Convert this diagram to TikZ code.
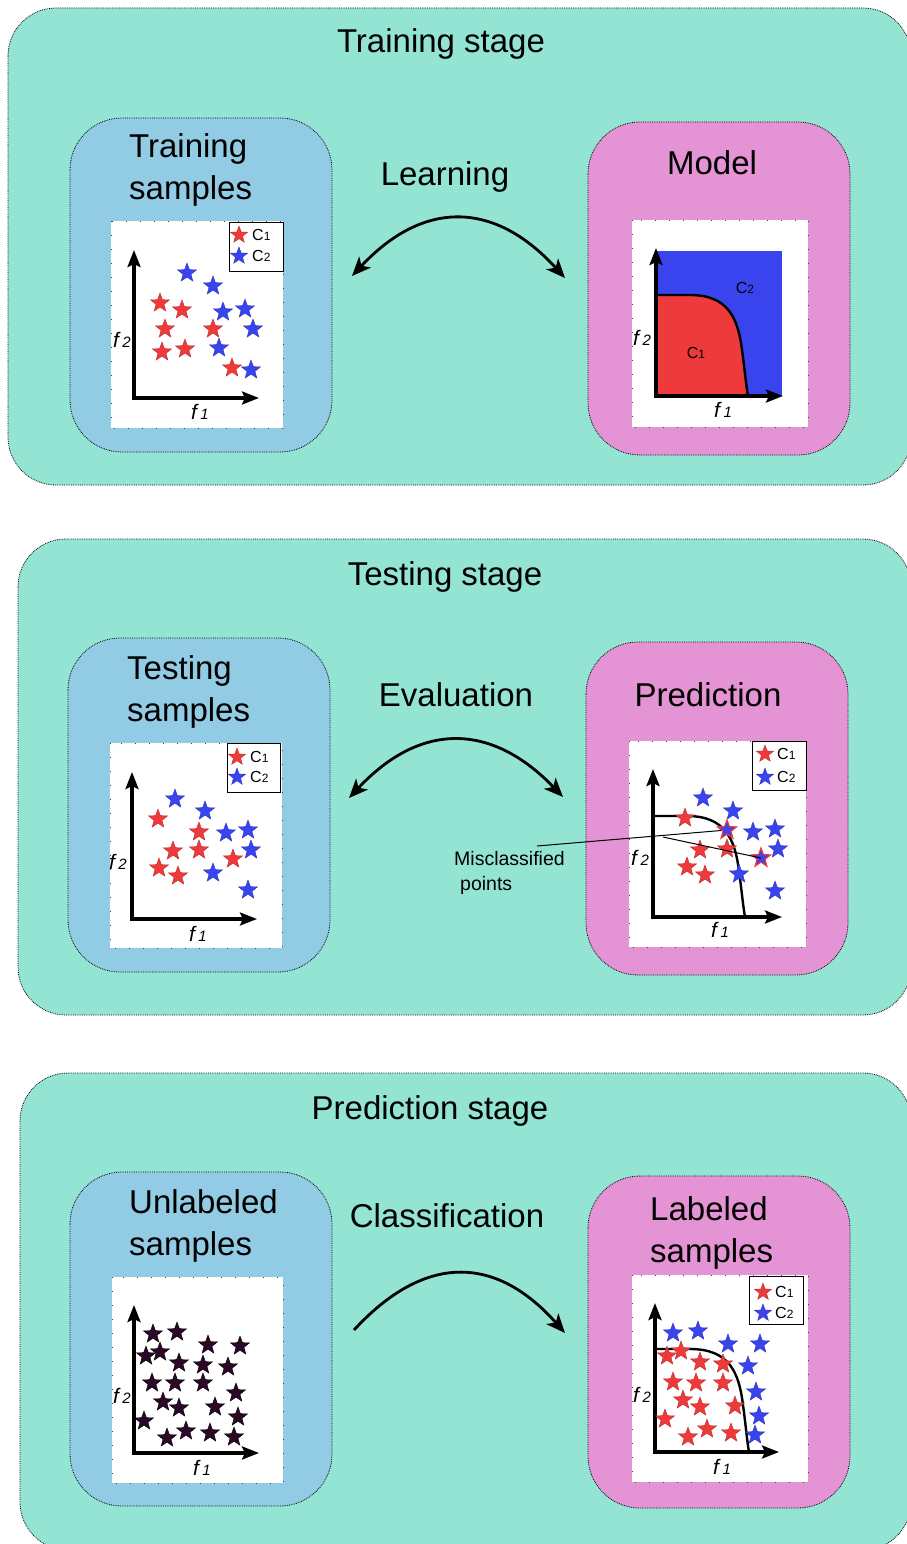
\documentclass[tikz,border=0pt]{standalone}
\usepackage{fontspec}
\setmainfont{Liberation Sans}
\usetikzlibrary{arrows.meta}
\usetikzlibrary{shapes.geometric}

\definecolor{stagegreen}{RGB}{147,228,211}
\definecolor{sampleblue}{RGB}{146,203,228}
\definecolor{modelpink}{RGB}{228,147,212}
\definecolor{cred}{RGB}{238,58,58}
\definecolor{cblue}{RGB}{58,68,238}
\definecolor{cdark}{RGB}{42,8,38}

\tikzset{
  stagebox/.style={fill=stagegreen, draw=black, densely dotted, line width=0.8pt, rounded corners=48pt},
  samplebox/.style={fill=sampleblue, draw=black, densely dotted, line width=0.8pt, rounded corners=52pt},
  modelbox/.style={samplebox, fill=modelpink},
  panel/.style={fill=white, draw=black!75, line width=0.9pt, dash pattern=on 0.9pt off 13.1pt},
  keybox/.style={fill=white, draw=black, line width=0.8pt},
  bigtext/.style={font=\fontsize{33}{42}\selectfont, inner sep=0pt},
  axis/.style={line width=3.2pt, {Stealth[length=17pt,width=13pt,inset=3pt]}-{Stealth[length=17pt,width=13pt,inset=3pt]}},
  flow/.style={line width=2.8pt},
  border/.style={line width=2.4pt},
  pt/.style={star, star points=5, star point ratio=2.4, minimum size=20pt, inner sep=0pt, line width=0.4pt},
  redpt/.style={pt, fill=cred, draw=cred!80!black},
  bluept/.style={pt, fill=cblue, draw=cblue!80!black},
  darkpt/.style={pt, fill=cdark, draw=black},
  wrongpt/.style={pt, fill=cblue, draw=cred, line width=1.2pt},
  flabel/.style={font=\itshape\fontsize{21}{21}\selectfont, inner sep=0pt},
  clabel/.style={font=\fontsize{16}{16}\selectfont, inner sep=0pt, anchor=west},
}
\newcommand{\fsub}[1]{f\,{\fontsize{15}{15}\selectfont #1}}
\newcommand{\csub}[1]{C{\fontsize{12}{12}\selectfont #1}}

\begin{document}
\begin{tikzpicture}[x=1pt, y=-1pt]
\useasboundingbox (0,0) rectangle (907,1544);
\clip (0,0) rectangle (907,1544);

% stages
\draw[stagebox] (8,8) rectangle (911,485);
\draw[stagebox] (18,539) rectangle (911,1015);
\draw[stagebox] (20,1073) rectangle (911,1550);

\draw[samplebox] (70,118) rectangle (332,452);
\draw[modelbox] (588,122) rectangle (850,455);
\draw[samplebox] (68,638) rectangle (330,972);
\draw[modelbox] (586,642) rectangle (848,975);
\draw[samplebox] (70,1172) rectangle (332,1506);
\draw[modelbox] (588,1176) rectangle (850,1508);

% ---- training stage
\node[bigtext, anchor=base] (train-title) at (441,53) {Training stage};
\node[bigtext, anchor=north west, align=left] (train-in) at (129,133) {Training\\samples};
\node[bigtext, anchor=base] (learn) at (445,185) {Learning};
\node[bigtext, anchor=base] (model) at (712,175) {Model};

\draw[panel] (111,221) rectangle (283,428);
\draw[axis] (134,250) -- (134,398) -- (259,398);
\node[flabel] (tr-f2) at (122,340) {\fsub{2}};
\node[flabel] (tr-f1) at (200,412) {\fsub{1}};
\foreach \p [count=\i] in {(160,303),(182,310),(165,329),(213,329),(162,352),(185,349),(232,368)}
  \node[redpt] (tr-r\i) at \p {};
\foreach \p [count=\i] in {(187,273),(213,286),(223,312),(245,309),(253,329),(219,348),(251,370)}
  \node[bluept] (tr-b\i) at \p {};
\draw[keybox] (229,222) rectangle (283,271);
\node[redpt, minimum size=18pt] (tr-k1) at (239,235) {};
\node[bluept, minimum size=18pt] (tr-k2) at (239,256) {};
\node[clabel] (tr-c1) at (252,235) {\csub{1}};
\node[clabel] (tr-c2) at (252,256) {\csub{2}};

\draw[panel] (632,220) rectangle (808,427);
\fill[cblue] (656,251) rectangle (782,396);
\begin{scope}[shift={(656,396)}]
  \fill[cred] (0,0) -- (0,-101) -- (34,-101) .. controls (72,-101) and (82,-78) .. (86,-46)
    .. controls (89,-24) and (90,-11) .. (92,0) -- cycle;
  \draw[border] (0,-101) -- (34,-101) .. controls (72,-101) and (82,-78) .. (86,-46)
    .. controls (89,-24) and (90,-11) .. (92,0);
\end{scope}
\draw[axis] (656,248) -- (656,396) -- (783,396);
\node[clabel, anchor=center] (md-c2) at (745,288) {\csub{2}};
\node[clabel, anchor=center] (md-c1) at (696,353) {\csub{1}};
\node[flabel] (md-f2) at (642,338) {\fsub{2}};
\node[flabel] (md-f1) at (723,410) {\fsub{1}};

\coordinate (learn-l) at (352,276);
\coordinate (learn-r) at (565,278);
\draw[flow, {Stealth[length=19pt,width=16pt,inset=5pt]}-{Stealth[length=19pt,width=16pt,inset=5pt]}]
  (learn-l) .. controls (423,200) and (494,200) .. (learn-r);

% ---- testing stage
\node[bigtext, anchor=base] (test-title) at (445,585) {Testing stage};
\node[bigtext, anchor=north west, align=left] (test-in) at (127,655) {Testing\\samples};
\node[bigtext, anchor=base] (eval) at (456,706) {Evaluation};
\node[bigtext, anchor=base] (pred) at (708,706) {Prediction};

\draw[panel] (110,743) rectangle (282,948);
\draw[axis] (132,772) -- (132,919) -- (257,919);
\node[flabel] (ts-f2) at (118,862) {\fsub{2}};
\node[flabel] (ts-f1) at (198,934) {\fsub{1}};
\foreach \p [count=\i] in {(158,819),(199,832),(173,851),(199,850),(233,859),(159,868),(178,876)}
  \node[redpt] (ts-r\i) at \p {};
\foreach \p [count=\i] in {(175,799),(205,811),(226,833),(248,830),(251,850),(213,873),(248,890)}
  \node[bluept] (ts-b\i) at \p {};
\draw[keybox] (227,743) rectangle (280,792);
\node[redpt, minimum size=18pt] (ts-k1) at (237,757) {};
\node[bluept, minimum size=18pt] (ts-k2) at (237,777) {};
\node[clabel] (ts-c1) at (250,757) {\csub{1}};
\node[clabel] (ts-c2) at (250,777) {\csub{2}};

\draw[panel] (629,741) rectangle (806,947);
\begin{scope}[shift={(653,917)}]
  \draw[border] (0,-101) -- (34,-101) .. controls (72,-101) and (82,-78) .. (86,-46)
    .. controls (89,-24) and (90,-11) .. (92,0);
\end{scope}
\draw[axis] (653,769) -- (653,917) -- (782,917);
\node[flabel] (pr-f2) at (640,858) {\fsub{2}};
\node[flabel] (pr-f1) at (720,930) {\fsub{1}};
\foreach \p [count=\i] in {(685,818),(700,850),(727,849),(687,867),(705,875)}
  \node[redpt] (pr-r\i) at \p {};
\foreach \p [count=\i] in {(703,798),(733,811),(753,832),(775,829),(778,849),(739,874),(775,891)}
  \node[bluept] (pr-b\i) at \p {};
\node[wrongpt] (pr-m1) at (727,830) {};
\node[wrongpt] (pr-m2) at (761,858) {};
\draw[keybox] (752,741) rectangle (806,790);
\node[redpt, minimum size=18pt] (pr-k1) at (765,754) {};
\node[bluept, minimum size=18pt] (pr-k2) at (765,777) {};
\node[clabel] (pr-c1) at (777,754) {\csub{1}};
\node[clabel] (pr-c2) at (777,777) {\csub{2}};

\node[font=\fontsize{19.5}{25}\selectfont, inner sep=0pt, anchor=north west, align=left] (mis)
  at (454,851) {Misclassified\\\hspace*{6pt}points};
\coordinate (mis-tip) at (537,846);
\coordinate (mis-fork) at (663,837);
\draw[line width=1pt] (mis-tip) -- (pr-m1);
\draw[line width=1pt] (mis-fork) -- (pr-m2.center);

\coordinate (eval-l) at (349,798);
\coordinate (eval-r) at (563,797);
\draw[flow, {Stealth[length=19pt,width=16pt,inset=5pt]}-{Stealth[length=19pt,width=16pt,inset=5pt]}]
  (eval-l) .. controls (420,722) and (491,722) .. (eval-r);

% ---- prediction stage
\node[bigtext, anchor=base] (pred-title) at (430,1119) {Prediction stage};
\node[bigtext, anchor=north west, align=left] (unl-in) at (129,1189) {Unlabeled\\samples};
\node[bigtext, anchor=base] (classif) at (447,1227) {Classification};
\node[bigtext, anchor=north west, align=left] (lab-out) at (650,1196) {Labeled\\samples};

\draw[panel] (112,1277) rectangle (283,1483);
\draw[axis] (134,1305) -- (134,1453) -- (259,1453);
\node[flabel] (un-f2) at (122,1396) {\fsub{2}};
\node[flabel] (un-f1) at (202,1468) {\fsub{1}};
\foreach \p [count=\i] in {(153,1334),(177,1332),(208,1345),(240,1346),(146,1356),(160,1352),
    (179,1363),(203,1365),(228,1367),(152,1383),(175,1383),(203,1383),(236,1393),(163,1402),
    (179,1408),(215,1407),(144,1421),(238,1417),(167,1438),(186,1431),(210,1433),(234,1437)}
  \node[darkpt] (un-s\i) at \p {};

\draw[panel] (632,1275) rectangle (808,1482);
\begin{scope}[shift={(655,1452)}]
  \draw[border] (0,-103) -- (35,-103) .. controls (74,-103) and (84,-80) .. (88,-47)
    .. controls (91,-25) and (92,-11) .. (94,0);
\end{scope}
\draw[axis] (655,1303) -- (655,1452) -- (779,1452);
\node[flabel] (lb-f2) at (642,1395) {\fsub{2}};
\node[flabel] (lb-f1) at (722,1467) {\fsub{1}};
\foreach \p [count=\i] in {(667,1356),(681,1351),(700,1362),(723,1364),(673,1382),(696,1383),(723,1383),
    (683,1400),(700,1407),(735,1406),(665,1419),(707,1429),(731,1433),(688,1437)}
  \node[redpt] (lb-r\i) at \p {};
\foreach \p [count=\i] in {(673,1333),(698,1331),(728,1344),(760,1344),(748,1366),(756,1392),(759,1416),(755,1435)}
  \node[bluept] (lb-b\i) at \p {};
\draw[keybox] (749,1276) rectangle (803,1324);
\node[redpt, minimum size=18pt] (lb-k1) at (763,1292) {};
\node[bluept, minimum size=18pt] (lb-k2) at (763,1313) {};
\node[clabel] (lb-c1) at (775,1292) {\csub{1}};
\node[clabel] (lb-c2) at (775,1313) {\csub{2}};

\coordinate (class-l) at (354,1330);
\coordinate (class-r) at (565,1333);
\draw[flow, -{Stealth[length=19pt,width=16pt,inset=5pt]}]
  (class-l) .. controls (424,1254) and (495,1254) .. (class-r);

\end{tikzpicture}
\end{document}
